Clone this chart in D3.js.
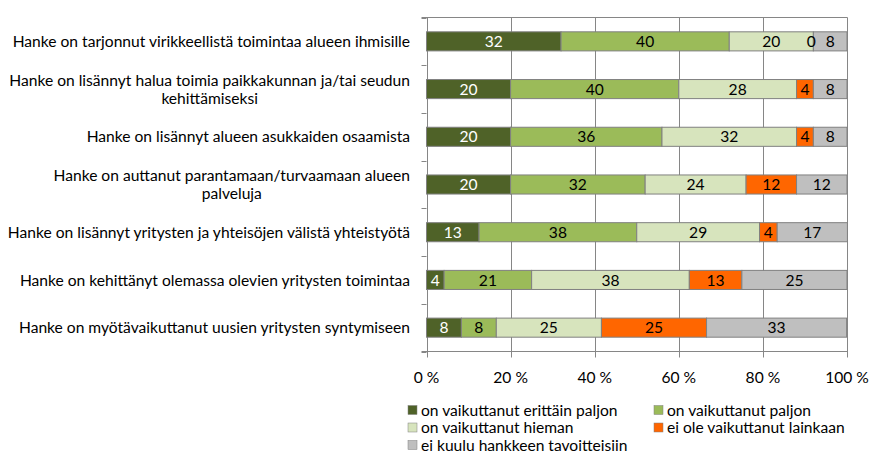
<!DOCTYPE html>
<html>
<head>
<meta charset="utf-8">
<script src="https://cdn.jsdelivr.net/npm/d3@7"></script>
<style>
  html, body { margin: 0; padding: 0; background: #fff; }
  svg { display: block; font-family: Lato, "Liberation Sans", sans-serif; }
</style>
</head>
<body>
<svg id="chart" width="882" height="461"></svg>
<script>
const categories = [
  "Hanke on tarjonnut virikkeellistä toimintaa alueen ihmisille",
  "Hanke on lisännyt halua toimia paikkakunnan ja/tai seudun\nkehittämiseksi",
  "Hanke on lisännyt alueen asukkaiden osaamista",
  "Hanke on auttanut parantamaan/turvaamaan alueen\npalveluja",
  "Hanke on lisännyt yritysten ja yhteisöjen välistä yhteistyötä",
  "Hanke on kehittänyt olemassa olevien yritysten toimintaa",
  "Hanke on myötävaikuttanut uusien yritysten syntymiseen"
];
const seriesNames = [
  "on vaikuttanut erittäin paljon",
  "on vaikuttanut paljon",
  "on vaikuttanut hieman",
  "ei ole vaikuttanut lainkaan",
  "ei kuulu hankkeen tavoitteisiin"
];
const erittainPaljon = [32, 20, 20, 20, 12.5, 4.2, 8.3];
const paljon         = [40, 40, 36, 32, 37.5, 20.8, 8.3];
const hieman         = [20, 28, 32, 24, 29.2, 37.5, 25];
const eiLainkaan     = [0, 4, 4, 12, 4.2, 12.5, 25];
const eiKuulu        = [8, 8, 8, 12, 16.7, 25, 33.3];
const seriesValues = [erittainPaljon, paljon, hieman, eiLainkaan, eiKuulu];
const seriesColors = ["#4F6228", "#9BBB59", "#D7E4BD", "#FF6600", "#BFBFBF"];
const labelColors  = ["#FFFFFF", "#000000", "#000000", "#000000", "#000000"];
const xTicks = [0, 20, 40, 60, 80, 100];
const xTickLabels = ["0 %", "20 %", "40 %", "60 %", "80 %", "100 %"];

(function () {
const svg = d3.select("#chart");
const fontSize = 15.6;
const pLeft = 426.5, pRight = 847, pTop = 17.5, pBottom = 351.5;
const gridColor = "#868686";

const x = d3.scaleLinear().domain([0, 100]).range([pLeft, pRight]);
const y = d3.scaleBand().domain(d3.range(categories.length)).range([pTop, pBottom]).paddingInner(0.6).paddingOuter(0.3);

// gridlines
svg.append("g").selectAll("line").data(xTicks).join("line")
  .attr("x1", d => Math.round(x(d)) + 0.5).attr("x2", d => Math.round(x(d)) + 0.5)
  .attr("y1", pTop).attr("y2", pBottom + 6)
  .attr("stroke", gridColor).attr("stroke-width", 1);

// top and bottom horizontal lines
[pTop, pBottom].forEach(yy => {
  svg.append("line").attr("x1", pLeft - 5).attr("x2", pRight + 0.5)
    .attr("y1", yy).attr("y2", yy).attr("stroke", gridColor);
});

// left category axis ticks
const boundaries = d3.range(categories.length + 1).map(i => pTop + i * (pBottom - pTop) / categories.length);
svg.append("g").selectAll("line").data(boundaries).join("line")
  .attr("x1", pLeft - 5).attr("x2", pLeft)
  .attr("y1", d => Math.round(d) + 0.5).attr("y2", d => Math.round(d) + 0.5)
  .attr("stroke", gridColor);

// stacked data
const rows = categories.map((c, i) => {
  let acc = 0;
  return seriesValues.map((vals, s) => {
    const v = vals[i];
    const seg = { row: i, s, v, x0: acc, x1: acc + v };
    acc += v;
    return seg;
  });
});
const segs = rows.flat();

svg.append("g").selectAll("rect").data(segs.filter(d => d.v > 0)).join("rect")
  .attr("x", d => x(d.x0)).attr("width", d => x(d.x1) - x(d.x0))
  .attr("y", d => y(d.row)).attr("height", y.bandwidth())
  .attr("fill", d => seriesColors[d.s])
  .attr("stroke", "#808080").attr("stroke-width", 1);

svg.append("g").selectAll("text").data(segs).join("text")
  .attr("x", d => (x(d.x0) + x(d.x1)) / 2 - (d.v === 0 ? 2 : 0))
  .attr("y", d => y(d.row) + y.bandwidth() / 2)
  .attr("dy", "0.36em")
  .attr("text-anchor", "middle")
  .attr("font-size", fontSize)
  .attr("fill", d => labelColors[d.s])
  .text(d => Math.round(d.v));

// category labels
const catG = svg.append("g");
categories.forEach((c, i) => {
  const lines = c.split("\n");
  const lh = 18;
  const cy = y(i) + y.bandwidth() / 2;
  const t = catG.append("text")
    .attr("font-size", fontSize).attr("fill", "#000");
  lines.forEach((ln, k) => {
    t.append("tspan").attr("x", 410).attr("y", cy + (k - (lines.length - 1) / 2) * lh)
      .attr("dy", "0.36em").text(ln);
  });
  if (lines.length > 1) {
    const tsp = t.selectAll("tspan").nodes();
    const w = d3.max(tsp, n => n.getComputedTextLength());
    tsp.forEach(n => {
      n.setAttribute("x", 410 - w / 2);
      n.setAttribute("text-anchor", "middle");
    });
  } else {
    t.attr("text-anchor", "end");
  }
});

// x tick labels
svg.append("g").selectAll("text").data(xTicks).join("text")
  .attr("x", d => x(d)).attr("y", 377).attr("dy", "0.36em")
  .attr("text-anchor", "middle").attr("font-size", fontSize).attr("fill", "#000")
  .text((d, i) => xTickLabels[i]);

// legend
const legCols = [408, 654];
const legRows = [410, 427.5, 445];
seriesNames.forEach((n, i) => {
  const cx = legCols[i % 2], cy = legRows[Math.floor(i / 2)];
  svg.append("rect").attr("x", cx).attr("y", cy - 4.5).attr("width", 9).attr("height", 9)
    .attr("fill", seriesColors[i]).attr("stroke", "#808080").attr("stroke-width", 0.5);
  svg.append("text").attr("x", cx + 13).attr("y", cy).attr("dy", "0.36em")
    .attr("font-size", fontSize).attr("fill", "#000").text(n);
});
})();
</script>
</body>
</html>
